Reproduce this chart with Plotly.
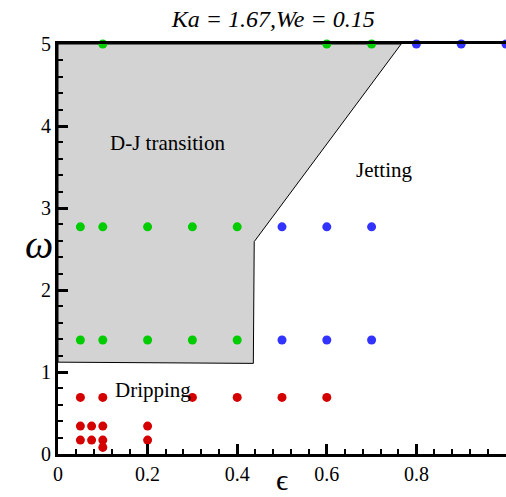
import plotly.graph_objects as go

# data
green_x = [0.1, 0.6, 0.7, 0.05, 0.1, 0.2, 0.3, 0.4, 0.05, 0.1, 0.2, 0.3, 0.4]
green_y = [5, 5, 5, 2.77, 2.77, 2.77, 2.77, 2.77, 1.39, 1.39, 1.39, 1.39, 1.39]
blue_x = [0.8, 0.9, 1.0, 0.5, 0.6, 0.7, 0.5, 0.6, 0.7]
blue_y = [5, 5, 5, 2.77, 2.77, 2.77, 1.39, 1.39, 1.39]
red_x = [0.05, 0.1, 0.3, 0.4, 0.5, 0.6, 0.05, 0.075, 0.1, 0.2, 0.05, 0.075, 0.1, 0.2, 0.1]
red_y = [0.69, 0.69, 0.69, 0.69, 0.69, 0.69, 0.34, 0.34, 0.34, 0.34, 0.17, 0.17, 0.17, 0.17, 0.08]
region_x = [0, 0.766, 0.438, 0.436, 0.0, 0]
region_y = [5, 5, 2.59, 1.105, 1.12, 5]

serif = "Liberation Serif, Times New Roman, serif"

fig = go.Figure()
fig.add_trace(go.Scatter(x=region_x, y=region_y, mode="lines", fill="toself",
                         fillcolor="#d3d3d3", line=dict(color="black", width=1),
                         hoverinfo="skip", showlegend=False))
for xs, ys, c in [(green_x, green_y, "#00cc00"), (blue_x, blue_y, "#3333ff"), (red_x, red_y, "#d40000")]:
    fig.add_trace(go.Scatter(x=xs, y=ys, mode="markers", cliponaxis=False,
                             marker=dict(color=c, size=9, line=dict(width=0)),
                             showlegend=False))

fig.update_layout(
    width=506, height=497,
    margin=dict(l=58, r=0, t=44, b=43),
    plot_bgcolor="white", paper_bgcolor="white",
    font=dict(family=serif, color="black", size=20),
    title=dict(text="<i>Ka = 1.67,We = 0.15</i>", x=0.54, xanchor="center",
               y=0.963, yanchor="middle", font=dict(size=24, family=serif)),
    xaxis=dict(range=[0, 1], showgrid=False, zeroline=False, showline=True,
               linecolor="black", linewidth=3, mirror=True,
               tickmode="array", tickvals=[0, 0.2, 0.4, 0.6, 0.8, 1.0],
               ticktext=["0", "0.2", "0.4", "0.6", "0.8", "1"],
               ticks="inside", ticklen=10, tickwidth=2.5, tickcolor="black",
               minor=dict(dtick=0.04, ticks="inside", ticklen=5, tickwidth=1.5, tickcolor="black"),
               tickfont=dict(size=20, family=serif)),
    yaxis=dict(range=[0, 5], showgrid=False, zeroline=False, showline=True,
               linecolor="black", linewidth=3, mirror=False,
               tickmode="array", tickvals=[0, 1, 2, 3, 4, 5],
               ticks="inside", ticklen=10, tickwidth=2.5, tickcolor="black",
               minor=dict(dtick=0.2, ticks="inside", ticklen=5, tickwidth=1.5, tickcolor="black"),
               tickfont=dict(size=20, family=serif)),
)

fig.add_annotation(x=0.244, y=3.79, text="D-J transition", showarrow=False,
                   font=dict(size=21, family=serif))
fig.add_annotation(x=0.727, y=3.46, text="Jetting", showarrow=False,
                   font=dict(size=21, family=serif))
fig.add_annotation(x=0.211, y=0.78, text="Dripping", showarrow=False,
                   font=dict(size=21, family=serif))
fig.add_annotation(xref="paper", yref="paper", x=0.5, y=-0.062, text="ϵ",
                   showarrow=False, yanchor="middle", font=dict(size=30, family=serif))
fig.add_annotation(xref="paper", yref="paper", x=-0.078, y=0.51, text="<i>ω</i>",
                   showarrow=False, yanchor="middle", font=dict(size=40, family=serif))

fig.write_html("out.html")
